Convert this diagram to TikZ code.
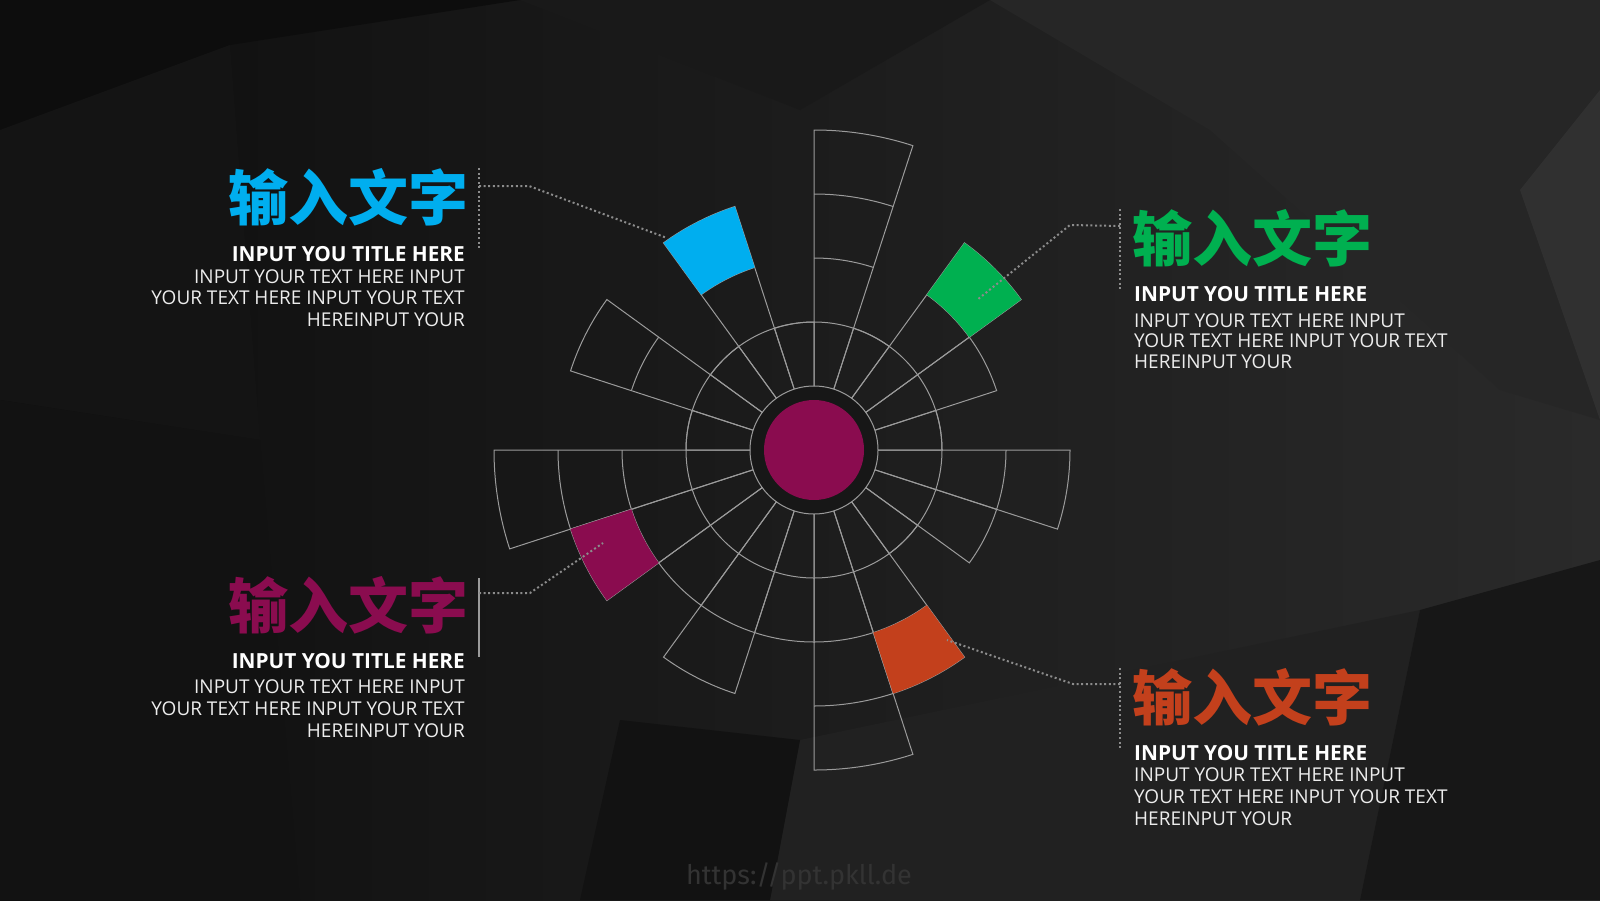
\documentclass[tikz,border=0pt]{standalone}
\usepackage{fontspec}
\setmainfont{Open Sans}
\newfontfamily\cjk{Noto Sans CJK SC}
\newfontfamily\wmfont{Fira Sans}
\usetikzlibrary{calc}
\definecolor{bgdark}{RGB}{14,14,14}
\definecolor{bgmid}{RGB}{24,24,24}
\definecolor{bglight}{RGB}{42,42,42}
\definecolor{linegray}{RGB}{155,155,155}
\definecolor{dotgray}{RGB}{140,140,140}
\definecolor{cblue}{RGB}{0,174,239}
\definecolor{cgreen}{RGB}{0,176,80}
\definecolor{cmag}{RGB}{138,12,79}
\definecolor{corange}{RGB}{195,64,28}
\tikzset{
  spoke/.style={draw=linegray, line width=1pt},
  leader/.style={draw=dotgray, line width=2pt, dash pattern=on 2pt off 2.6pt},
  cntitle/.style={font=\cjk\bfseries\fontsize{60}{60}\selectfont, inner sep=0pt},
  entitle/.style={font=\bfseries\fontsize{20.8}{24}\selectfont, text=white, inner sep=0pt},
  body/.style={font=\fontsize{19}{22}\selectfont, text=white!93!black, inner sep=0pt},
}
\newcommand\wcell[2]{\fill[#2] ($(C)+(#1:192pt)$) arc[start angle=#1, end angle=#1+18, radius=192pt]
  -- ($(C)+(#1+18:256pt)$) arc[start angle=#1+18, end angle=#1, radius=256pt] -- cycle;}
\begin{document}
\begin{tikzpicture}[x=1pt,y=-1pt]
\useasboundingbox (0,0) rectangle (1600,900);
% background facets
\shade[left color=bgdark, middle color=bgmid, right color=bglight] (0,0) rectangle (1600,900);
\fill[black!95] (0,0) -- (520,0) -- (230,45) -- (0,130) -- cycle;
\fill[black!92] (0,130) -- (230,45) -- (260,440) -- (0,400) -- cycle;
\fill[black!93] (0,400) -- (260,440) -- (300,900) -- (0,900) -- cycle;
\fill[black!90] (520,0) -- (990,0) -- (800,110) -- cycle;
\fill[black!85] (990,0) -- (1600,0) -- (1600,420) -- (1500,390) -- (1210,130) -- cycle;
\fill[black!81] (1520,190) -- (1600,90) -- (1600,420) -- cycle;
\fill[black!87] (800,740) -- (1420,610) -- (1360,900) -- (770,900) -- cycle;
\fill[black!91] (1420,610) -- (1600,560) -- (1600,900) -- (1360,900) -- cycle;
\fill[black!93] (620,720) -- (800,740) -- (770,900) -- (580,900) -- cycle;
% wheel
\coordinate (C) at (814,450);
\fill[black!91] (C) circle[radius=63pt];
\draw[spoke] (C) circle[radius=64pt] (C) circle[radius=128pt];
\foreach \a/\R in {0/128,18/192,36/256,54/128,72/320,90/128,108/256,126/128,144/256,162/128,
                   180/320,198/256,216/192,234/256,252/192,270/320,288/256,306/128,324/192,342/256}{
  \draw[spoke] ($(C)+(\a:64pt)$) -- ($(C)+(\a:\R pt)$) arc[start angle=\a, end angle=\a+18, radius=\R pt]
    -- ($(C)+(\a+18:64pt)$);
  \foreach \r in {192,256}{
    \ifnum\r<\R \draw[spoke] ($(C)+(\a:\r pt)$) arc[start angle=\a, end angle=\a+18, radius=\r pt];\fi
  }
}
\wcell{108}{cblue}
\wcell{36}{cgreen}
\wcell{198}{cmag}
\wcell{288}{corange}
\fill[cmag] (C) circle[radius=50pt];
% leaders
\coordinate (blueup) at (479,168);   \coordinate (bluedown) at (479,250);
\coordinate (bluek) at (479,186);    \coordinate (bluebend) at (529,186);  \coordinate (blueend) at (667,238);
\coordinate (greenup) at (1120,209); \coordinate (greendown) at (1120,290);
\coordinate (greenk) at (1120,226);  \coordinate (greenbend) at (1070,225); \coordinate (greenend) at (977,300);
\coordinate (magup) at (479,578);    \coordinate (magdown) at (479,657);
\coordinate (magk) at (479,593);     \coordinate (magbend) at (530,593);   \coordinate (magend) at (603,543);
\coordinate (orup) at (1120,668);    \coordinate (ordown) at (1120,750);
\coordinate (ork) at (1120,684);     \coordinate (orbend) at (1073,684);   \coordinate (orend) at (947,640);
\draw[leader] (blueup) -- (bluedown);
\draw[leader] (bluek) -- (bluebend) -- (blueend);
\draw[leader] (greenup) -- (greendown);
\draw[leader] (greenk) -- (greenbend) -- (greenend);
\draw[linegray, line width=1.2pt] (magup) -- (magdown);
\draw[leader] (magk) -- (magbend) -- (magend);
\draw[leader] (orup) -- (ordown);
\draw[leader] (ork) -- (orbend) -- (orend);
% texts
\node[cntitle, text=cblue, anchor=base east] (bluecn) at (469,220) {输入文字};
\node[entitle, anchor=base east] (blueen) at (465,261) {INPUT YOU TITLE HERE};
\foreach \t [count=\i] in {INPUT YOUR TEXT HERE INPUT, YOUR TEXT HERE INPUT YOUR TEXT, HEREINPUT YOUR}
  \node[body, anchor=base east] (bluetx\i) at (465,283+21.8*\i-21.8) {\t};
\node[cntitle, text=cmag, anchor=base east] (magcn) at (469,628) {输入文字};
\node[entitle, anchor=base east] (magen) at (465,668) {INPUT YOU TITLE HERE};
\foreach \t [count=\i] in {INPUT YOUR TEXT HERE INPUT, YOUR TEXT HERE INPUT YOUR TEXT, HEREINPUT YOUR}
  \node[body, anchor=base east] (magtx\i) at (465,693+22*\i-22) {\t};
\node[cntitle, text=cgreen, anchor=base west] (greencn) at (1132,261) {输入文字};
\node[entitle, anchor=base west] (greenen) at (1134,301) {INPUT YOU TITLE HERE};
\foreach \t [count=\i] in {INPUT YOUR TEXT HERE INPUT, YOUR TEXT HERE INPUT YOUR TEXT, HEREINPUT YOUR}
  \node[body, anchor=base west] (greentx\i) at (1134,327+20.6*\i-20.6) {\t};
\node[cntitle, text=corange, anchor=base west] (orcn) at (1132,720) {输入文字};
\node[entitle, anchor=base west] (oren) at (1134,760) {INPUT YOU TITLE HERE};
\foreach \t [count=\i] in {INPUT YOUR TEXT HERE INPUT, YOUR TEXT HERE INPUT YOUR TEXT, HEREINPUT YOUR}
  \node[body, anchor=base west] (ortx\i) at (1134,781+22*\i-22) {\t};
\node[font=\wmfont\fontsize{27}{27}\selectfont, text=black!80, anchor=base] (wm) at (799,884) {https://ppt.pkll.de};
\end{tikzpicture}
\end{document}
